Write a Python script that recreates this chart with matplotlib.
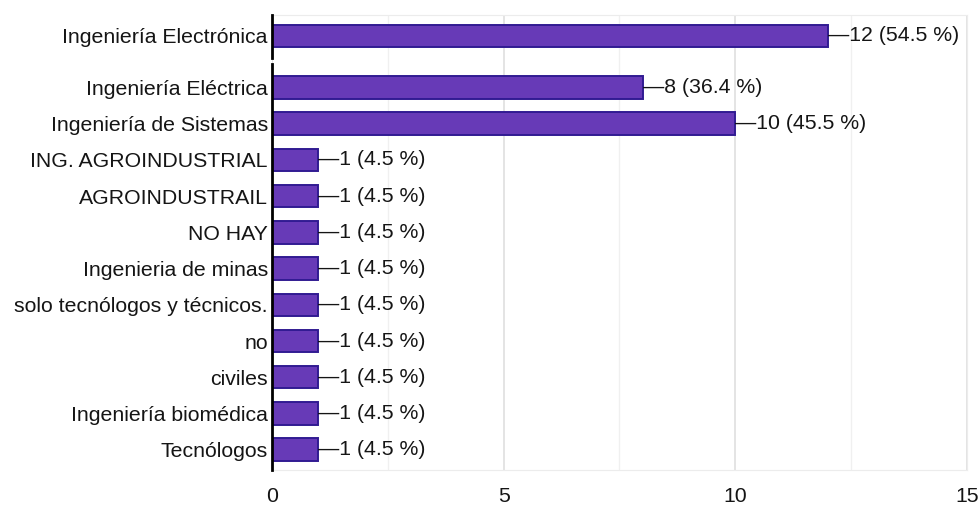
import matplotlib
matplotlib.use("Agg")
import matplotlib.pyplot as plt
import numpy as np

categories = [
    "Ingeniería Electrónica",
    "Ingeniería Eléctrica",
    "Ingeniería de Sistemas",
    "ING. AGROINDUSTRIAL",
    "AGROINDUSTRAIL",
    "NO HAY",
    "Ingenieria de minas",
    "solo tecnólogos y técnicos.",
    "no",
    "civiles",
    "Ingeniería biomédica",
    "Tecnólogos",
]
counts = [12, 8, 10, 1, 1, 1, 1, 1, 1, 1, 1, 1]
percents = ["54.5", "36.4", "45.5", "4.5", "4.5", "4.5", "4.5", "4.5", "4.5", "4.5", "4.5", "4.5"]
xticks = [0, 5, 10, 15]

plt.rcParams['font.family'] = ['Liberation Sans', 'DejaVu Sans']

fig = plt.figure(figsize=(9.79, 5.08), dpi=100)
ax = fig.add_axes([0.2778, 0.0748, 0.7099, 0.8957])

# first row sits a bit apart from the rest
gap = 0.42
ypos = np.arange(len(categories)) + np.where(np.arange(len(categories)) > 0, gap, 0)

ax.barh(ypos, counts, height=0.62, color="#673ab7", edgecolor="#311b92",
        linewidth=1.4, zorder=3)

for y, c, p in zip(ypos, counts, percents):
    ax.text(c, y, "—%d (%s %%)" % (c, p), va="center", ha="left",
            fontsize=15.3, color="#151515", zorder=4)

ax.set_xlim(0, 15)
ax.set_ylim(ypos[-1] + 0.56, -0.58)
ax.set_yticks(ypos)
ax.set_yticklabels(categories, fontsize=15.3, color="#151515")
ax.set_xticks(xticks)
ax.set_xticklabels([str(t) for t in xticks], fontsize=15.3, color="#151515")
ax.set_xticks([2.5, 7.5, 12.5], minor=True)
ax.tick_params(axis="y", which="both", length=0, pad=3)
ax.tick_params(axis="x", which="both", length=0, pad=12)

ax.grid(axis="x", which="major", color="#e2e2e2", linewidth=1.3, zorder=0)
ax.grid(axis="x", which="minor", color="#f0f0f0", linewidth=1.0, zorder=0)

for s in ["top", "bottom", "right"]:
    ax.spines[s].set_color("#ececec")
ax.spines["left"].set_visible(False)

# broken vertical axis line
ax.plot([0, 0], [-0.58, 0.6], color="black", lw=2, clip_on=False, zorder=5)
ax.plot([0, 0], [0.78, ypos[-1] + 0.56], color="black", lw=2, clip_on=False, zorder=5)

fig.savefig("out.png", dpi=100)
